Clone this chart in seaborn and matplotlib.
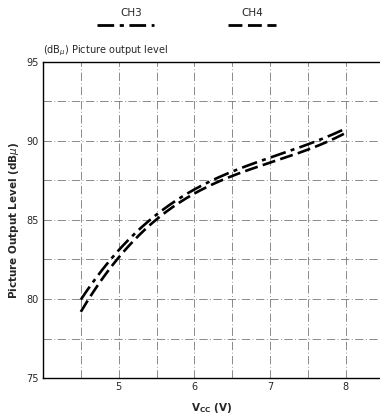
import numpy as np
import seaborn as sns
import matplotlib.pyplot as plt
from matplotlib.lines import Line2D

# values
vcc = [4.5, 5.0, 5.5, 6.0, 6.5, 7.0, 7.5, 8.0]
ch3 = [80.0, 83.0, 85.3, 87.1, 88.0, 88.9, 89.8, 90.8]
ch4 = [79.2, 82.6, 85.0, 86.8, 87.7, 88.6, 89.5, 90.5]

sns.set_style("white")
plt.rcParams["font.family"] = ["DejaVu Sans"]

fig = plt.figure(figsize=(3.8, 4.15), dpi=100)
ax = fig.add_axes([0.113, 0.089, 0.887, 0.762])

# smooth curves through the read points
xs = np.linspace(4.5, 8.0, 200)
c3 = np.polyfit(vcc, ch3, 3)
c4 = np.polyfit(vcc, ch4, 3)
sns.lineplot(x=xs, y=np.polyval(c3, xs), ax=ax, color="black", lw=1.9,
             linestyle=(0, (6, 2, 1.5, 2)))
sns.lineplot(x=xs, y=np.polyval(c4, xs), ax=ax, color="black", lw=1.9,
             linestyle=(0, (5, 2)))

ax.set_xlim(4.0, 8.45)
ax.set_ylim(75, 95)
ax.set_xticks([5, 6, 7, 8])
ax.set_yticks([75, 80, 85, 90, 95])
ax.set_xticks(np.arange(4.5, 8.5, 0.5), minor=True)
ax.set_yticks(np.arange(77.5, 95, 2.5), minor=True)
ax.grid(which="both", color="#777777", lw=0.6, linestyle=(0, (10, 3, 1, 3)))
ax.tick_params(axis="both", which="both", length=0, labelsize=7, pad=3)

for s in ["left", "bottom", "top"]:
    ax.spines[s].set_color("black")
    ax.spines[s].set_linewidth(1.0)
ax.spines["right"].set_visible(False)

ax.set_xlabel("V$_{\\mathregular{CC}}$ (V)", fontsize=7.5, fontweight="bold", labelpad=6)
ax.set_ylabel("Picture Output Level (dB$\\mu$)", fontsize=7.5, fontweight="bold", labelpad=4)

fig.text(0.113, 0.878, "(dB$_{\\mu}$) Picture output level", fontsize=7, ha="left", va="center")

# legend at top
fig.text(0.345, 0.968, "CH3", fontsize=7.5, ha="center", va="center")
fig.text(0.665, 0.968, "CH4", fontsize=7.5, ha="center", va="center")
fig.add_artist(Line2D([0.255, 0.405], [0.940, 0.940], color="black", lw=2.0,
                      linestyle=(0, (6, 2, 1.5, 2)), transform=fig.transFigure))
fig.add_artist(Line2D([0.6, 0.725], [0.940, 0.940], color="black", lw=2.0,
                      linestyle=(0, (5, 2)), transform=fig.transFigure))

fig.savefig("out.png", dpi=100)
